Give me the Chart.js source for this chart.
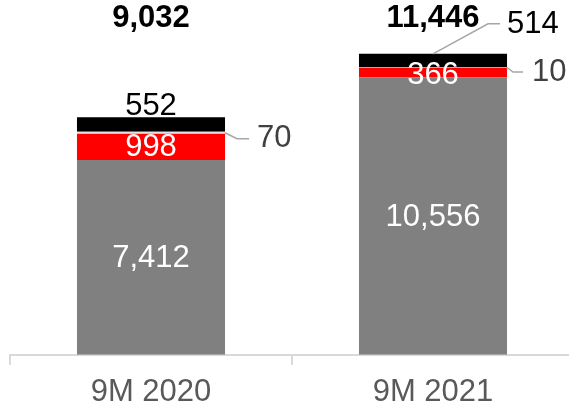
<!DOCTYPE html>
<html>
<head>
<meta charset="utf-8">
<script src="https://cdn.jsdelivr.net/npm/chart.js@4"></script>
<style>
  html, body { margin: 0; padding: 0; background: #fff; overflow: hidden; }
</style>
</head>
<body>
<canvas id="mychart" width="574" height="420"></canvas>
<script>
// data
const categories = ['9M 2020', '9M 2021'];
const greyValues = [7412, 10556];
const redValues = [998, 366];
const whiteValues = [70, 10];
const blackValues = [552, 514];

const fmt = v => v.toLocaleString('en-US');
const FONT = '"Liberation Sans", Arial, sans-serif';

// where each segment label goes (dataset index -> per bar)
const labelPlace = [
    [{ mode: 'inside', dy: 1 }, { mode: 'inside', dy: 1 }],
    [{ mode: 'inside', dy: 1 }, { mode: 'inside', dy: 3 }],
    [{ mode: 'leader', from: 'right', p1: [12, 6], p2: [24, 6], t: [32, 6], color: '#404040' },
     { mode: 'leader', from: 'right', p1: [6, 4.5], p2: [16, 4.5], t: [25, 4.5], color: '#404040' }],
    [{ mode: 'above' },
     { mode: 'leader', from: 'top', p1: [55, -30], p2: [67, -30], t: [74, -29], color: '#000' }]
];

const labelPlugin = {
    id: 'segLabels',
    afterDatasetsDraw(chart) {
        const ctx = chart.ctx;
        ctx.save();
        ctx.font = '31px ' + FONT;
        chart.data.datasets.forEach((ds, di) => {
            const meta = chart.getDatasetMeta(di);
            meta.data.forEach((bar, i) => {
                const txt = fmt(ds.data[i]);
                const place = labelPlace[di][i];
                const mid = (bar.y + bar.base) / 2;
                if (place.mode === 'inside') {
                    ctx.fillStyle = '#fff';
                    ctx.textAlign = 'center';
                    ctx.textBaseline = 'middle';
                    ctx.fillText(txt, bar.x, mid + place.dy);
                } else if (place.mode === 'above') {
                    ctx.fillStyle = '#000';
                    ctx.textAlign = 'center';
                    ctx.textBaseline = 'alphabetic';
                    ctx.fillText(txt, bar.x, bar.y - 2);
                } else {
                    let x0, y0;
                    if (place.from === 'right') { x0 = bar.x + bar.width / 2; y0 = mid; }
                    else { x0 = bar.x; y0 = bar.y; }
                    ctx.strokeStyle = '#a6a6a6';
                    ctx.lineWidth = 1.5;
                    ctx.beginPath();
                    ctx.moveTo(x0, y0);
                    ctx.lineTo(x0 + place.p1[0], y0 + place.p1[1]);
                    ctx.lineTo(x0 + place.p2[0], y0 + place.p2[1]);
                    ctx.stroke();
                    ctx.fillStyle = place.color;
                    ctx.textAlign = 'left';
                    ctx.textBaseline = 'middle';
                    ctx.fillText(txt, x0 + place.t[0], y0 + place.t[1]);
                }
            });
        });
        // totals along the top
        const meta0 = chart.getDatasetMeta(0);
        ctx.font = 'bold 31px ' + FONT;
        ctx.fillStyle = '#000';
        ctx.textAlign = 'center';
        ctx.textBaseline = 'middle';
        meta0.data.forEach((bar, i) => {
            const total = chart.data.datasets.reduce((s, d) => s + d.data[i], 0);
            ctx.fillText(fmt(total), bar.x, chart.chartArea.top + 5);
        });
        ctx.restore();
    }
};

const ctx = document.getElementById('mychart');

const mychart = new Chart(ctx, {
    type: 'bar',
    data: {
        labels: categories,
        datasets: [
            { label: 'Grey', data: greyValues, backgroundColor: '#808080' },
            { label: 'Red', data: redValues, backgroundColor: '#ff0000' },
            { label: 'White', data: whiteValues, backgroundColor: '#e4e4e4' },
            { label: 'Black', data: blackValues, backgroundColor: '#000000' }
        ]
    },
    options: {
        responsive: false,
        animation: false,
        layout: { padding: { left: 10, right: 0, top: 13, bottom: 0 } },
        datasets: { bar: { categoryPercentage: 1, barPercentage: 0.525, borderWidth: 0 } },
        plugins: { legend: { display: false }, tooltip: { enabled: false } },
        scales: {
            x: {
                stacked: true,
                border: { color: '#d9d9d9', width: 2 },
                grid: { offset: true, drawOnChartArea: false, drawTicks: true, tickLength: 10, color: '#d9d9d9', lineWidth: 2 },
                ticks: { color: '#595959', font: { family: FONT, size: 31 }, padding: 9 }
            },
            y: {
                stacked: true,
                display: false,
                min: 0,
                max: 13000
            }
        }
    },
    plugins: [labelPlugin]
});
</script>
</body>
</html>
